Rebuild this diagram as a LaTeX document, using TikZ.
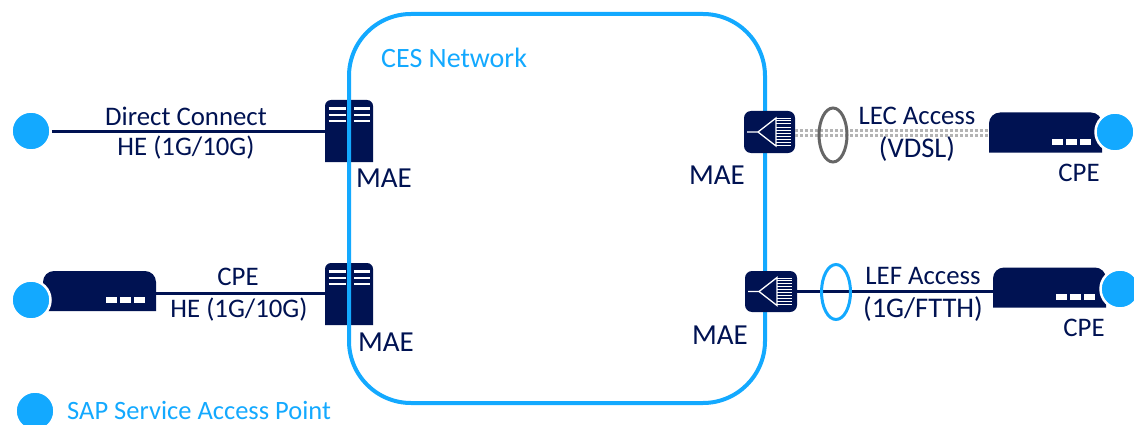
\documentclass[tikz,border=0pt]{standalone}
\usepackage{fontspec}
\setmainfont{Carlito}
\usetikzlibrary{shapes.geometric}
\definecolor{navy}{HTML}{001252}
\definecolor{skyb}{HTML}{13A9FF}
\definecolor{dotgrey}{HTML}{B4B4B4}
\definecolor{ringgrey}{HTML}{666666}
\tikzset{
  x=1pt,y=-1pt,
  lbl/.style={text=navy,font=\fontsize{26.8}{27}\selectfont,inner sep=0pt,anchor=center},
  maelbl/.style={text=navy,font=\fontsize{29}{29}\selectfont,inner sep=0pt,anchor=center},
  biglbl/.style={text=navy,font=\fontsize{28.5}{29}\selectfont,inner sep=0pt,anchor=center},
  bluelbl/.style={text=skyb,inner sep=0pt},
  sap/.style={circle,fill=skyb,draw=white,line width=2.5pt,minimum size=39pt,inner sep=0pt},
  slot/.style={rectangle,inner sep=0pt,outer sep=0pt},
  link/.style={navy,line width=3pt},
  greylink/.style={dotgrey,line width=2.8pt,dash pattern=on 3pt off 2pt},
  ring/.style={ellipse,draw,line width=3pt,inner sep=0pt,fill=none},
  cloud/.style={rectangle,draw=skyb,line width=4pt,rounded corners=62pt,inner sep=0pt},
  iconline/.style={white,line width=1.3pt},
  cpedot/.style={fill=white},
}
\newcommand{\serverdraw}[1]{%
  \fill[navy] (#1.south west) [rounded corners=6pt] -- (#1.north west) -- (#1.north east) [sharp corners] -- (#1.south east) -- cycle;
}
\newcommand{\serverlines}[1]{%
  \foreach \d in {-22.5,-16,-10}{%
    \draw[white,line width=2.2pt] ([xshift=-20.5pt,yshift=-\d pt]#1.center) -- ([xshift=-3.5pt,yshift=-\d pt]#1.center);
    \draw[white,line width=2.2pt] ([xshift=5pt,yshift=-\d pt]#1.center) -- ([xshift=21pt,yshift=-\d pt]#1.center);
  }%
}
\newcommand{\splitter}[1]{%
  \fill[navy,rounded corners=7pt] (#1.south west) rectangle (#1.north east);
  \draw[iconline] ([xshift=3pt]#1.west) -- ([xshift=14pt]#1.west) -- ([xshift=32pt,yshift=14pt]#1.west) -- ([xshift=32pt,yshift=-14pt]#1.west) -- ([xshift=14pt]#1.west);
  \foreach \d in {-13,-10,-7,-4,-1,2,5,8,11,13.5}{%
    \draw[white,line width=1pt] ([xshift=32pt,yshift=\d pt]#1.west) -- ([xshift=47pt,yshift=\d pt]#1.west);
  }%
}
\newcommand{\cpedraw}[1]{%
  \fill[navy] (#1.south west) [rounded corners=11pt] -- (#1.north west) -- (#1.north east) [sharp corners] -- (#1.south east) -- cycle;
  \fill[cpedot] ([xshift=63pt,yshift=8pt]#1.south west) rectangle ++(11,-6);
  \fill[cpedot] ([xshift=77pt,yshift=8pt]#1.south west) rectangle ++(11,-6);
  \fill[cpedot] ([xshift=91pt,yshift=8pt]#1.south west) rectangle ++(11,-6);
}
\begin{document}
\begin{tikzpicture}
\useasboundingbox (0,0) rectangle (1134,425);
% anchors
\node[slot,minimum width=48pt,minimum height=62pt] (srvA) at (349,131) {};
\node[slot,minimum width=48pt,minimum height=62pt] (srvB) at (349,294) {};
\node[slot,minimum width=51pt,minimum height=42pt] (splA) at (769.5,132) {};
\node[slot,minimum width=52pt,minimum height=41pt] (splB) at (771,291.5) {};
\node[slot,minimum width=113pt,minimum height=40pt] (cpeL) at (99.5,291) {};
\node[slot,minimum width=113pt,minimum height=40pt] (cpeA) at (1045.5,132.5) {};
\node[slot,minimum width=113pt,minimum height=40pt] (cpeB) at (1049.5,287.5) {};
\node[sap] (sapA) at (31,131) {};

% left shapes below cloud
\serverdraw{srvA}
\serverdraw{srvB}
\serverlines{srvA}
\serverlines{srvB}
% cloud
\node[cloud,minimum width=416pt,minimum height=389pt] (ces) at (557,208.5) {};
% splitters over cloud
\splitter{splA}
\splitter{splB}
% connectors
\draw[link] (sapA.east) -- (srvA.west);
\draw[link] ([yshift=-2pt]cpeL.east) -- ([yshift=-2pt]cpeL.east -| srvB.west);
\draw[greylink] ([yshift=1.5pt]splA.east) -- ([yshift=1.5pt]splA.east -| cpeA.west);
\draw[greylink] ([yshift=-3.5pt]splA.east) -- ([yshift=-3.5pt]splA.east -| cpeA.west);
\draw[link] (splB.east) -- (splB.east -| cpeB.west);
% cpes
\cpedraw{cpeL}
\cpedraw{cpeA}
\cpedraw{cpeB}
\node[sap] (sapL) at (31,300) {};
\node[sap] (sapR) at (1115,132) {};
\node[sap] (sapS) at (1120,289) {};
\node[sap] (sapK) at (35,411) {};
% rings
\node[ring,draw=ringgrey,minimum width=28pt,minimum height=54pt] (ringA) at (833,135) {};
\node[ring,draw=skyb,minimum width=29pt,minimum height=55pt] (ringB) at (836,292) {};
% labels
\node[bluelbl,anchor=west,font=\fontsize{28}{28}\selectfont] (cesT) at (381,58) {CES Network};
\node[lbl] (t1) at (186,116) {Direct Connect};
\node[lbl] (t2) at (186,148) {HE (1G/10G)};
\node[maelbl] (t3) at (384,178) {MAE};
\node[lbl] (t4) at (238,277) {CPE};
\node[lbl] (t5) at (239,310) {HE (1G/10G)};
\node[maelbl] (t6) at (386,342) {MAE};
\node[maelbl] (t7) at (717,175) {MAE};
\node[lbl] (t8) at (917,116) {LEC Access};
\node[biglbl] (t9) at (917,149) {(VDSL)};
\node[lbl] (t10) at (1079,173) {CPE};
\node[maelbl] (t11) at (720,335) {MAE};
\node[lbl] (t12) at (923,276) {LEF Access};
\node[biglbl] (t13) at (923,309) {(1G/FTTH)};
\node[lbl] (t14) at (1084,328) {CPE};
\node[bluelbl,anchor=west,font=\fontsize{26.5}{27}\selectfont] (t15) at (67,410.5) {SAP Service Access Point};
\end{tikzpicture}
\end{document}
